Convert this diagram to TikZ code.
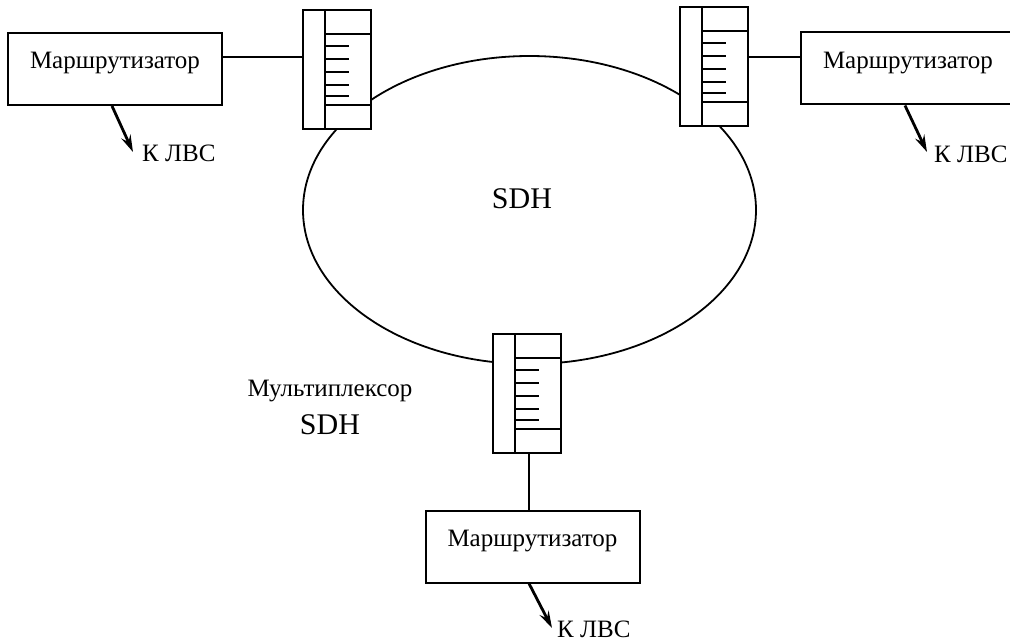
\documentclass[tikz,border=0pt]{standalone}
\usepackage{fontspec}
\setmainfont{Liberation Serif}
\usetikzlibrary{arrows.meta,shapes.geometric,calc}

\tikzset{
  line/.style={line width=2pt},
  router/.style={draw, line width=2pt, fill=white, rectangle,
    minimum width=214pt, inner xsep=0pt, inner ysep=0pt,
    text height=36pt, text depth=36pt,
    font=\fontsize{25}{30}\selectfont},
  mux/.style={draw, line width=2pt, fill=white, rectangle,
    minimum width=68pt, minimum height=119pt, inner sep=0pt,
    path picture={
      \coordinate (nw) at (path picture bounding box.north west);
      \draw[line width=2pt] ([shift={(22,0)}]nw) -- ([shift={(22,119)}]nw);
      \foreach \yy in {24,95}
        \draw[line width=2pt] ([shift={(22,\yy)}]nw) -- ([shift={(68,\yy)}]nw);
      \foreach \yy in {36,49,62,75,86}
        \draw[line width=2pt] ([shift={(22,\yy)}]nw) -- ([shift={(46,\yy)}]nw);
    }},
  ring/.style={draw, line width=1.8pt, ellipse, inner sep=0pt,
    minimum width=453pt, minimum height=308pt},
  lbl/.style={inner sep=0pt, font=\fontsize{25}{30}\selectfont},
  big/.style={inner sep=0pt, font=\fontsize{30}{36}\selectfont},
  lan/.style={line width=2.8pt, -{Stealth[length=17pt,width=10pt,inset=6pt]}}
}

\begin{document}
\begin{tikzpicture}[x=1pt,y=-1pt]
  \useasboundingbox (0,0) rectangle (1010,644);

  % SDH ring
  \node[ring] (ring) at (529.5,210) {};
  \node[big, anchor=base] (sdh) at (522,209) {SDH};

  % multiplexers sitting on the ring
  \node[mux] (mux1) at (337,69.5) {};
  \node[mux] (mux2) at (714,66.5) {};
  \node[mux] (mux3) at (526.5,393.5) {};

  \node[lbl, anchor=base] (muxname) at (330,397) {Мультиплексор};
  \node[big, anchor=base] (muxsdh) at (330,435) {SDH};

  % routers
  \node[router] (r1) at (115,69) {Маршрутизатор};
  \node[router] (r2) at (908,68.5) {Маршрутизатор};
  \node[router] (r3) at (532.5,546.5) {Маршрутизатор};

  % router -- multiplexer links
  \draw[line] ([yshift=12pt]r1.east) coordinate (l1) -- (l1 -| mux1.west);
  \draw[line] ([yshift=11.5pt]r2.west) coordinate (l2) -- (l2 -| mux2.east);
  \draw[line] ([xshift=2.5pt]mux3.south) coordinate (l3) -- (l3 |- r3.north);

  % LAN outlets
  \node[lbl, anchor=base west] (lan1) at (142,162) {К ЛВС};
  \node[lbl, anchor=base west] (lan2) at (934,163) {К ЛВС};
  \node[lbl, anchor=base west] (lan3) at (557,637) {К ЛВС};

  \coordinate (t1) at (133,152);
  \coordinate (t2) at (927,152);
  \coordinate (t3) at (552,628);

  \draw[lan] ([xshift=-3pt]r1.south) -- (t1);
  \draw[lan] ([xshift=-3pt]r2.south) -- (t2);
  \draw[lan] ([xshift=-3.5pt]r3.south) -- (t3);
\end{tikzpicture}
\end{document}
